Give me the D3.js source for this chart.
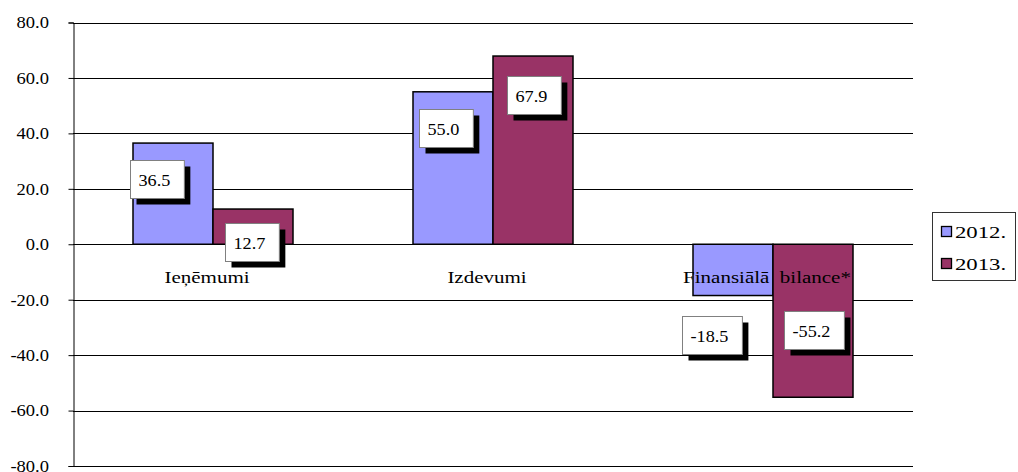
<!DOCTYPE html>
<html>
<head>
<meta charset="utf-8">
<script src="https://cdn.jsdelivr.net/npm/d3@7"></script>
<style>
  html, body { margin: 0; padding: 0; background: #fff; }
  svg { display: block; }
  text { font-family: "Liberation Serif", "Times New Roman", serif; font-size: 17.5px; fill: #000; }
</style>
</head>
<body>
<svg id="chart" width="1018" height="472"></svg>
<script>
// ---- data ----
const categories = ["Ieņēmumi", "Izdevumi", "Finansiālā  bilance*"];
const seriesNames = ["2012.", "2013."];
const values2012 = [36.5, 55.0, -18.5];
const values2013 = [12.7, 67.9, -55.2];
const yTickValues = [-80, -60, -40, -20, 0, 20, 40, 60, 80];

// ---- layout (label box centre offsets from bar end, px) ----
const labelOffsets = [
  [[-16, 35.5], [-7, 36], [-21, 39]],
  [[-1, 33], [1, 39], [1, -67]]
];
const colors = ["#9999FF", "#993366"];
const fmt = v => v.toFixed(1);

const svg = d3.select("#chart");
const plot = { left: 73, right: 913, top: 22.5, bottom: 466 };

const y = d3.scaleLinear().domain([-80, 80]).range([plot.bottom, plot.top]);
const x0 = d3.scaleBand().domain(categories).range([plot.left, plot.right])
  .paddingInner(3 / 7).paddingOuter(1.5 / 7);
const x1 = d3.scaleBand().domain(seriesNames).range([0, x0.bandwidth()]);

const seriesValues = [values2012, values2013];

// stretched text helper (reference text is horizontally widened)
function stext(parent, x, yy, str, sx, anchor) {
  return parent.append("text")
    .attr("transform", `translate(${x},${yy}) scale(${sx},1)`)
    .attr("text-anchor", anchor || "start")
    .attr("dominant-baseline", "central")
    .style("white-space", "pre")
    .text(str);
}

// gridlines
svg.append("g").selectAll("line").data(yTickValues).join("line")
  .attr("x1", plot.left).attr("x2", plot.right)
  .attr("y1", d => Math.round(y(d)) + 0.5).attr("y2", d => Math.round(y(d)) + 0.5)
  .attr("stroke", "#000").attr("stroke-width", 1);

// y axis (line + ticks via d3 axis, labels stretched)
const yAxis = d3.axisLeft(y).tickValues(yTickValues).tickFormat("").tickSize(5);
const gy = svg.append("g").attr("transform", `translate(${plot.left + 0.5},0)`).call(yAxis);
gy.select(".domain").attr("stroke", "#000");
gy.selectAll(".tick line").attr("stroke", "#000");
const yl = svg.append("g");
yTickValues.forEach(v => stext(yl, 49, y(v), fmt(v), 1.06, "end"));

// bars
const barG = svg.append("g");
seriesNames.forEach((s, si) => {
  barG.selectAll(null).data(seriesValues[si]).join("rect")
    .attr("x", (d, i) => x0(categories[i]) + x1(s))
    .attr("y", d => y(Math.max(0, d)))
    .attr("width", x1.bandwidth())
    .attr("height", d => Math.abs(y(d) - y(0)))
    .attr("fill", colors[si])
    .attr("stroke", "#000").attr("stroke-width", 1.5);
});

// category labels
const cg = svg.append("g");
categories.forEach(c => stext(cg, x0(c) + x0.bandwidth() / 2 - 6, y(0) + 33, c, 1.2, "middle"));

// data labels
const lblG = svg.append("g");
const lsx = 1.04;
seriesNames.forEach((s, si) => {
  seriesValues[si].forEach((v, i) => {
    const cx = x0(categories[i]) + x1(s) + x1.bandwidth() / 2 + labelOffsets[si][i][0];
    const cy = y(v) + labelOffsets[si][i][1];
    const g = lblG.append("g");
    const t = stext(g, 0, 0, fmt(v), lsx);
    const w = t.node().getComputedTextLength() * lsx;
    const bw = w + 22, bh = 38;
    const bx = Math.round(cx - bw / 2) + 0.5, by = Math.round(cy - bh / 2) + 0.5;
    g.insert("rect", "text").attr("x", bx + 6).attr("y", by + 6).attr("width", bw).attr("height", bh)
      .attr("fill", "#000");
    g.insert("rect", "text").attr("x", bx).attr("y", by).attr("width", bw).attr("height", bh)
      .attr("fill", "#fff").attr("stroke", "#808080").attr("stroke-width", 1);
    t.attr("transform", `translate(${bx + 8},${by + bh / 2 + 1}) scale(${lsx},1)`);
  });
});

// legend
const lg = svg.append("g");
lg.append("rect").attr("x", 932.5).attr("y", 212.5).attr("width", 83).attr("height", 68)
  .attr("fill", "#fff").attr("stroke", "#333").attr("stroke-width", 1);
seriesNames.forEach((s, si) => {
  const yy = 232 + si * 32;
  lg.append("rect").attr("x", 941.5).attr("y", yy - 5.5).attr("width", 10).attr("height", 10)
    .attr("fill", colors[si]).attr("stroke", "#000").attr("stroke-width", 1.3);
  stext(lg, 955, yy, s, 1.3);
});
</script>
</body>
</html>
